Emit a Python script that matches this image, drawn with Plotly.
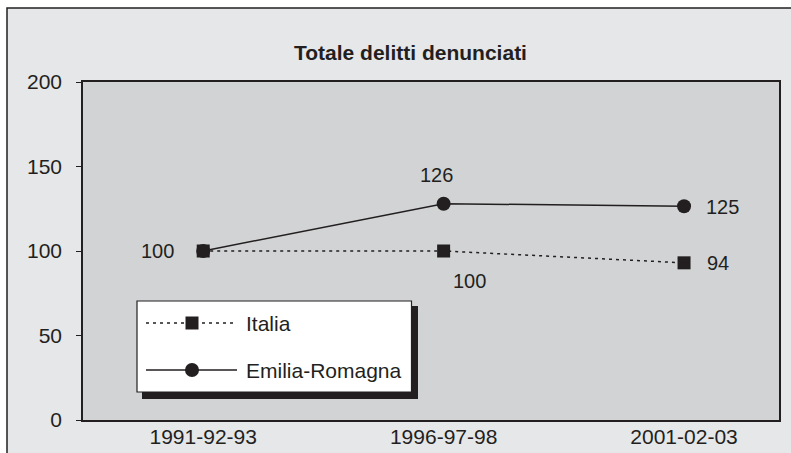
import plotly.graph_objects as go

# ---- data ----
periods = ["1991-92-93", "1996-97-98", "2001-02-03"]
italia = [100, 100, 93]
italia_labels = ["100", "100", "94"]
emilia = [100, 128, 126.5]
emilia_labels = ["100", "126", "125"]
y_ticks = [0, 50, 100, 150, 200]
title_text = "Totale delitti denunciati"
series_names = ["Italia", "Emilia-Romagna"]

INK = "#231f20"
FONT = "Liberation Sans, Arial, Helvetica, sans-serif"
W, H = 791, 453
ML, MR, MT, MB = 83, 12, 82, 33
PW, PH = W - ML - MR, H - MT - MB


def px(x):
    return (x - ML) / PW


def py(y):
    return (H - MB - y) / PH


xpos = list(range(len(periods)))

fig = go.Figure()
fig.add_trace(go.Scatter(
    x=xpos, y=italia, mode="lines+markers", name=series_names[0],
    line=dict(color=INK, width=1.5, dash="3px,4px"),
    marker=dict(symbol="square", size=13, color=INK),
    hoverinfo="skip"))
fig.add_trace(go.Scatter(
    x=xpos, y=emilia, mode="lines+markers", name=series_names[1],
    line=dict(color=INK, width=1.5),
    marker=dict(symbol="circle", size=14, color=INK),
    hoverinfo="skip"))

annotations = []
lab_font = dict(family=FONT, size=20, color=INK)
# label offsets in pixels: (xshift, yshift)
it_offsets = [None, (26, -30), (34, 0)]
em_offsets = [(-46, 0), (-7, 29), (38, -1)]
for i, off in enumerate(em_offsets):
    if off:
        annotations.append(dict(x=xpos[i], y=emilia[i], xref="x", yref="y",
                                text=emilia_labels[i], showarrow=False,
                                xshift=off[0], yshift=off[1], font=lab_font))
for i, off in enumerate(it_offsets):
    if off:
        annotations.append(dict(x=xpos[i], y=italia[i], xref="x", yref="y",
                                text=italia_labels[i], showarrow=False,
                                xshift=off[0], yshift=off[1], font=lab_font))

# title
annotations.append(dict(x=px(410), y=py(52), xref="paper", yref="paper",
                        text="<b>" + title_text + "</b>", showarrow=False,
                        xanchor="center", yanchor="middle",
                        font=dict(family=FONT, size=21, color=INK)))

# legend texts
leg_font = dict(family=FONT, size=21, color=INK)
for name, yy in zip(series_names, [323, 370]):
    annotations.append(dict(x=px(244), y=py(yy), xref="paper", yref="paper",
                            text=name, showarrow=False, xanchor="left",
                            yanchor="middle", font=leg_font))

shapes = [
    # outer frame
    dict(type="rect", xref="paper", yref="paper", layer="below",
         x0=px(7), x1=px(805), y0=py(470), y1=py(8),
         fillcolor="#e6e7e9", line=dict(color=INK, width=1.5)),
    # plot background
    dict(type="rect", xref="paper", yref="paper", layer="below",
         x0=0, x1=1, y0=0, y1=1, fillcolor="#d1d3d4", line=dict(width=0)),
    # legend shadow
    dict(type="rect", xref="paper", yref="paper", layer="above",
         x0=px(142), x1=px(418), y0=py(399), y1=py(306),
         fillcolor=INK, line=dict(width=0)),
    # legend box
    dict(type="rect", xref="paper", yref="paper", layer="above",
         x0=px(137), x1=px(411.5), y0=py(392), y1=py(301),
         fillcolor="white", line=dict(color=INK, width=1.2)),
    # legend sample lines
    dict(type="line", xref="paper", yref="paper", layer="above",
         x0=px(146), x1=px(237), y0=py(323), y1=py(323),
         line=dict(color=INK, width=1.5, dash="3px,4px")),
    dict(type="line", xref="paper", yref="paper", layer="above",
         x0=px(146), x1=px(237), y0=py(370), y1=py(370),
         line=dict(color=INK, width=1.5)),
    # legend sample markers
    dict(type="rect", xref="paper", yref="paper", layer="above",
         xsizemode="pixel", ysizemode="pixel",
         xanchor=px(192), yanchor=py(323), x0=-6.5, x1=6.5, y0=-6.5, y1=6.5,
         fillcolor=INK, line=dict(width=0)),
    dict(type="circle", xref="paper", yref="paper", layer="above",
         xsizemode="pixel", ysizemode="pixel",
         xanchor=px(192), yanchor=py(370), x0=-7, x1=7, y0=-7, y1=7,
         fillcolor=INK, line=dict(width=0)),
]

fig.update_layout(
    width=W, height=H,
    margin=dict(l=ML, r=MR, t=MT, b=MB, pad=0, autoexpand=False),
    paper_bgcolor="white",
    plot_bgcolor="rgba(0,0,0,0)",
    showlegend=False,
    font=dict(family=FONT, size=21, color=INK),
    annotations=annotations,
    shapes=shapes,
    xaxis=dict(
        range=[-0.5, 2.395], tickvals=xpos, ticktext=periods,
        showgrid=False, zeroline=False, showline=True, mirror=True,
        linecolor=INK, linewidth=1.5, ticks="", ticklabelstandoff=-3,
        automargin=False,
        tickfont=dict(family=FONT, size=21, color=INK), fixedrange=True),
    yaxis=dict(
        range=[0, 200], tickvals=y_ticks,
        showgrid=False, zeroline=False, showline=True, mirror=True,
        linecolor=INK, linewidth=1.5, ticks="outside", ticklen=5,
        tickcolor=INK, tickwidth=1, ticklabelstandoff=10,
        automargin=False,
        tickfont=dict(family=FONT, size=21, color=INK), fixedrange=True),
)

fig.write_html("out.html", config={"displayModeBar": False},
               post_script="document.body.style.margin='0';document.body.style.overflow='hidden';")
